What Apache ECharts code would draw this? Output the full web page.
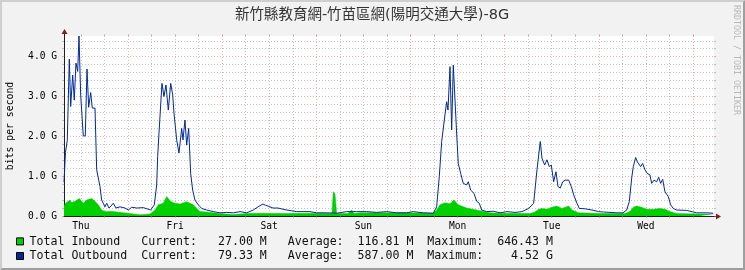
<!DOCTYPE html>
<html><head><meta charset="utf-8">
<script src="https://cdn.jsdelivr.net/npm/echarts@6/dist/echarts.min.js"></script>
<style>html,body{margin:0;padding:0;background:#f2f2f2}#c{width:745px;height:270px}</style>
</head><body><div id="c"></div>
<script>
// ---- text ----
const chartTitle = '新竹縣教育網-竹苗區網(陽明交通大學)-8G';
const yAxisTitle = 'bits per second';
const watermark = 'RRDTOOL / TOBI OETIKER';
// ---- x axis (hours since Thursday 00:00) ----
const xStart = 7.7;
const xEnd = 173.35;
const dayNames = ['Thu', 'Fri', 'Sat', 'Sun', 'Mon', 'Tue', 'Wed'];
const dayNoonHours = [12, 36, 60, 84, 108, 132, 156];
const midnightHours = [24, 48, 72, 96, 120, 144, 168];
const sixHourMarks = [12, 18, 30, 36, 42, 54, 60, 66, 78, 84, 90, 102, 108, 114, 126, 132, 138, 150, 156, 162];
// ---- y axis (Gbit/s) ----
const yMax = 4.52;
const yMajorTicks = [0, 1, 2, 3, 4];
const yTickLabels = ['0.0 G', '1.0 G', '2.0 G', '3.0 G', '4.0 G'];
const yMinorTicks = [0.2, 0.4, 0.6, 0.8, 1.2, 1.4, 1.6, 1.8, 2.2, 2.4, 2.6, 2.8, 3.2, 3.4, 3.6, 3.8, 4.2, 4.4];
// ---- series: [hour, Gbit/s] ----
const inboundPoints = [[7.70,0.25],[8.08,0.32],[9.23,0.40],[9.73,0.33],[10.50,0.37],[11.60,0.44],[12.61,0.32],[13.48,0.40],[14.76,0.44],[15.60,0.37],[16.44,0.28],[17.30,0.15],[18.14,0.11],[20.26,0.11],[22.81,0.08],[24.52,0.06],[27.06,0.03],[29.61,0.05],[30.89,0.15],[31.73,0.28],[33.00,0.32],[33.87,0.49],[34.71,0.38],[35.55,0.33],[37.26,0.30],[38.96,0.36],[40.65,0.28],[42.35,0.11],[44.06,0.10],[45.74,0.08],[47.45,0.06],[50.84,0.04],[54.26,0.06],[57.64,0.07],[63.51,0.06],[69.88,0.07],[75.99,0.06],[76.32,0.61],[76.76,0.55],[77.19,0.06],[80.07,0.06],[81.01,0.15],[81.60,0.06],[83.13,0.08],[93.32,0.08],[101.73,0.07],[102.67,0.15],[103.52,0.28],[104.79,0.33],[106.07,0.31],[107.08,0.40],[108.18,0.28],[110.32,0.20],[112.87,0.15],[114.55,0.11],[116.26,0.08],[118.81,0.07],[126.45,0.06],[127.72,0.10],[128.67,0.17],[129.51,0.19],[130.78,0.17],[132.06,0.22],[133.33,0.25],[134.61,0.19],[136.32,0.25],[137.15,0.15],[138.86,0.08],[144.29,0.06],[150.66,0.06],[151.94,0.11],[152.78,0.22],[153.64,0.25],[154.91,0.22],[156.19,0.17],[157.87,0.17],[159.58,0.19],[160.85,0.17],[162.12,0.11],[163.83,0.06],[169.77,0.05],[173.16,0.05]];
const outboundPoints = [[7.70,0.85],[8.08,1.60],[8.54,1.90],[9.05,3.94],[9.40,2.75],[9.91,3.54],[10.32,2.91],[10.75,3.84],[11.19,3.63],[11.52,4.52],[11.95,3.04],[12.28,3.04],[12.61,2.01],[13.12,2.01],[13.56,3.69],[13.99,2.73],[14.50,3.10],[14.91,2.71],[15.60,2.71],[16.03,1.16],[16.44,1.14],[16.87,0.74],[17.30,0.40],[17.71,0.37],[18.14,0.23],[18.58,0.32],[19.16,0.20],[19.67,0.25],[20.26,0.32],[20.95,0.20],[21.97,0.23],[23.24,0.20],[24.08,0.15],[24.95,0.22],[26.22,0.20],[27.91,0.21],[29.18,0.17],[29.79,0.15],[30.71,0.28],[31.32,0.78],[31.57,1.49],[31.91,2.08],[32.34,2.10],[32.67,3.33],[33.18,3.00],[33.69,3.29],[34.28,2.66],[34.89,3.33],[35.40,3.04],[35.73,2.58],[36.42,1.91],[37.00,1.58],[37.69,2.20],[38.02,1.91],[38.53,2.41],[38.96,1.78],[39.47,2.20],[39.98,1.07],[40.49,0.65],[41.08,0.40],[41.92,0.28],[42.79,0.19],[44.06,0.15],[45.74,0.11],[47.45,0.08],[49.16,0.09],[50.84,0.08],[52.55,0.11],[54.26,0.08],[55.94,0.15],[57.14,0.23],[58.41,0.30],[59.05,0.27],[59.68,0.25],[60.96,0.20],[62.23,0.20],[64.45,0.15],[67.00,0.11],[70.39,0.11],[72.09,0.08],[74.64,0.08],[77.19,0.07],[79.74,0.11],[82.29,0.11],[84.84,0.11],[87.39,0.09],[89.93,0.11],[92.48,0.08],[95.03,0.08],[96.71,0.11],[99.26,0.08],[101.81,0.07],[102.67,0.23],[103.34,0.99],[103.95,1.87],[104.79,2.54],[105.22,2.87],[105.56,2.66],[106.07,3.75],[106.50,2.16],[106.91,3.79],[107.26,3.79],[107.72,2.16],[108.18,1.32],[108.79,1.07],[109.45,0.82],[110.32,0.78],[110.73,0.86],[111.34,0.65],[112.18,0.57],[112.87,0.37],[113.53,0.32],[114.14,0.15],[115.42,0.11],[117.10,0.12],[118.81,0.08],[120.59,0.11],[122.63,0.09],[124.41,0.11],[126.12,0.19],[127.39,0.32],[128.24,1.16],[128.67,1.53],[129.08,1.87],[129.51,1.45],[130.20,1.28],[130.78,1.41],[131.37,1.24],[131.88,1.28],[132.49,0.86],[133.08,1.11],[133.59,0.74],[134.17,0.70],[134.79,0.86],[135.45,0.90],[136.32,0.90],[136.98,0.74],[137.59,0.53],[138.43,0.32],[139.01,0.19],[140.54,0.18],[142.25,0.15],[143.96,0.11],[145.23,0.10],[146.84,0.09],[148.62,0.08],[150.15,0.08],[151.10,0.15],[151.76,0.36],[152.37,0.95],[152.78,1.24],[153.39,1.47],[153.80,1.36],[154.23,1.41],[154.66,1.24],[155.17,1.32],[155.76,1.16],[156.34,1.07],[157.03,1.03],[157.46,0.82],[158.05,0.90],[158.74,0.86],[159.25,0.97],[159.76,0.82],[160.27,0.92],[160.85,0.61],[161.69,0.49],[162.31,0.28],[162.97,0.19],[163.83,0.15],[166.39,0.14],[168.93,0.08],[171.48,0.08],[173.16,0.07]];
// ---- legend ----
const legendNames = ['Total Inbound', 'Total Outbound'];
const legendColors = ['#00CF00', '#002A97'];
const currentVals = ['27.00 M', '79.33 M'];
const averageVals = ['116.81 M', '587.00 M'];
const maximumVals = ['646.43 M', '4.52 G'];

const MONO = "'DejaVu Sans Mono', monospace";
const GRID_C = 'rgba(150,150,150,0.55)';
const MGRID_C = 'rgba(235,90,90,0.5)';
const DASH = [1, 2];

const chart = echarts.init(document.getElementById('c'), null, {renderer: 'canvas'});

function xAx(extra) {
  return Object.assign({
    type: 'value', min: xStart, max: xEnd, position: 'bottom',
    axisLine: {show: false, onZero: false},
    axisLabel: {show: false}, splitLine: {show: false},
    axisTick: {show: false}
  }, extra);
}
function yAx(extra) {
  return Object.assign({
    type: 'value', min: 0, max: yMax, position: 'left',
    axisLine: {show: false, onZero: false},
    axisLabel: {show: false}, splitLine: {show: false},
    axisTick: {show: false}
  }, extra);
}

const legendGraphics = [];
legendNames.forEach((n, i) => {
  const y = 241.7 + i * 14.6;
  legendGraphics.push({type: 'rect', shape: {x: 16.5, y: y - 3.8, width: 7, height: 7},
    style: {fill: legendColors[i], stroke: '#000', lineWidth: 1}});
  const line = n.padEnd(16) + 'Current:' + currentVals[i].padStart(10) + '   Average:' +
    averageVals[i].padStart(10) + '  Maximum:' + maximumVals[i].padStart(10);
  legendGraphics.push({type: 'text', x: 29.5, y: y,
    style: {text: line, font: '11.6px ' + MONO, fill: '#111', textAlign: 'left', textVerticalAlign: 'middle'}});
});

chart.setOption({
  animation: false,
  backgroundColor: '#F2F2F2',
  grid: {left: 64, top: 36, width: 650, height: 180, containLabel: false, outerBoundsMode: 'none', show: true, backgroundColor: '#FFFFFF', borderWidth: 0},
  xAxis: [
    xAx({
      axisLine: {show: true, onZero: false, lineStyle: {color: '#1F1F1F', width: 1}},
      axisTick: {show: true, customValues: midnightHours, length: 2, lineStyle: {color: MGRID_C}},
      splitLine: {show: true, lineStyle: {color: MGRID_C, type: DASH, width: 1}},
      axisLabel: {show: true, customValues: dayNoonHours, margin: 5, color: '#000', fontFamily: MONO, fontSize: 9.6,
        formatter: v => dayNames[dayNoonHours.indexOf(Math.round(v))] || ''}
    }),
    xAx({
      axisTick: {show: true, customValues: sixHourMarks, length: 2, lineStyle: {color: GRID_C}},
      splitLine: {show: true, lineStyle: {color: GRID_C, type: DASH, width: 1}}
    }),
    xAx({position: 'top', axisTick: {show: true, customValues: midnightHours, length: 2, lineStyle: {color: MGRID_C}}}),
    xAx({position: 'top', axisTick: {show: true, customValues: sixHourMarks, length: 2, lineStyle: {color: GRID_C}}})
  ],
  yAxis: [
    yAx({
      axisLine: {show: true, onZero: false, lineStyle: {color: '#1F1F1F', width: 1}},
      axisTick: {show: true, customValues: yMajorTicks, length: 2, lineStyle: {color: MGRID_C}},
      splitLine: {show: true, lineStyle: {color: MGRID_C, type: DASH, width: 1}},
      axisLabel: {show: true, customValues: yMajorTicks, margin: 7, color: '#000', fontFamily: MONO, fontSize: 9.6,
        formatter: v => yTickLabels[yMajorTicks.indexOf(Math.round(v))] || ''}
    }),
    yAx({
      axisTick: {show: true, customValues: yMinorTicks, length: 2, lineStyle: {color: GRID_C}},
      splitLine: {show: true, lineStyle: {color: GRID_C, type: DASH, width: 1}}
    }),
    yAx({position: 'right', axisTick: {show: true, customValues: yMajorTicks, length: 2, lineStyle: {color: MGRID_C}}}),
    yAx({position: 'right', axisTick: {show: true, customValues: yMinorTicks, length: 2, lineStyle: {color: GRID_C}}})
  ],
  series: [
    {name: legendNames[0], type: 'line', xAxisIndex: 0, yAxisIndex: 0, data: inboundPoints,
      showSymbol: false, symbol: 'none', silent: true,
      lineStyle: {width: 0.5, color: legendColors[0]},
      areaStyle: {color: legendColors[0], opacity: 1, origin: 'start'}, z: 3},
    {name: legendNames[1], type: 'line', xAxisIndex: 0, yAxisIndex: 0, data: outboundPoints,
      showSymbol: false, symbol: 'none', silent: true,
      lineStyle: {width: 1, color: legendColors[1]}, z: 4}
  ],
  graphic: [
    {type: 'polygon', shape: {points: [[0,0],[745,0],[743,2],[2,2],[2,268],[0,270]]}, style: {fill: '#CFCFCF'}, silent: true},
    {type: 'polygon', shape: {points: [[745,0],[745,270],[0,270],[2,268],[743,268],[743,2]]}, style: {fill: '#9E9E9E'}, silent: true},
    {type: 'text', x: 372, y: 15, style: {text: chartTitle, font: "14.5px 'DejaVu Sans', 'Noto Sans CJK TC', sans-serif", fill: '#333', textAlign: 'center', textVerticalAlign: 'middle'}},
    {type: 'text', x: 10, y: 126, rotation: Math.PI / 2, style: {text: yAxisTitle, font: '9.8px ' + MONO, fill: '#000', textAlign: 'center', textVerticalAlign: 'middle'}},
    {type: 'text', x: 736, y: 60, rotation: -Math.PI / 2, style: {text: watermark, font: '8.3px ' + MONO, fill: '#B8B8B8', textAlign: 'center', textVerticalAlign: 'middle'}},
    {type: 'line', shape: {x1: 64.5, y1: 36, x2: 64.5, y2: 32}, style: {stroke: '#1F1F1F', lineWidth: 1}},
    {type: 'polygon', shape: {points: [[64.5,29],[61.5,34],[67.5,34]]}, style: {fill: '#801F1F'}},
    {type: 'line', shape: {x1: 714, y1: 216.5, x2: 717, y2: 216.5}, style: {stroke: '#1F1F1F', lineWidth: 1}},
    {type: 'polygon', shape: {points: [[721,216.5],[716,213.5],[716,219.5]]}, style: {fill: '#801F1F'}}
  ].concat(legendGraphics)
});
</script>
</body></html>
